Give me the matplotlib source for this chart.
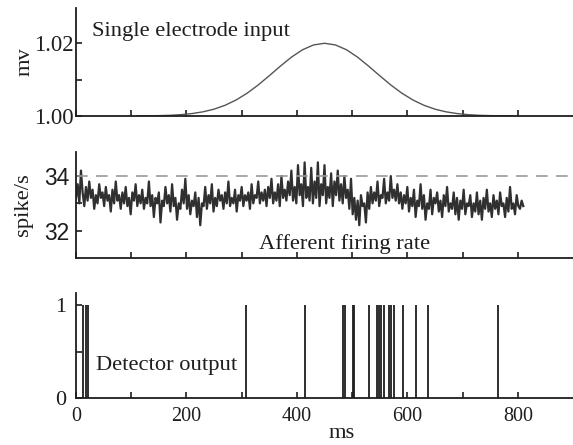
import matplotlib
matplotlib.use("Agg")
import matplotlib.pyplot as plt

# ---------------- data ----------------
input_t = [110, 130, 150, 170, 190, 210, 230, 250, 270, 290, 310, 330, 350, 370, 390,
           410, 430, 450, 470, 490, 510, 530, 550, 570, 590, 610, 630, 650, 670, 690,
           710, 730, 750, 770, 790]
input_mv = [1.00002, 1.00005, 1.00010, 1.00019, 1.00037, 1.00067, 1.00115, 1.00188,
            1.00295, 1.00441, 1.00628, 1.00854, 1.01108, 1.01370, 1.01617, 1.01820,
            1.01953, 1.02000, 1.01953, 1.01820, 1.01617, 1.01370, 1.01108, 1.00854,
            1.00628, 1.00441, 1.00295, 1.00188, 1.00115, 1.00067, 1.00037, 1.00019,
            1.00010, 1.00005, 1.00002]

rate_step_ms = 3
rate_values = [
    33.2, 33.7, 33.0, 34.2, 33.4, 32.9, 33.6, 33.1, 33.8, 33.2,
    33.5, 32.8, 33.3, 33.0, 33.7, 33.2, 33.4, 32.9, 33.6, 33.1,
    33.3, 32.7, 33.5, 33.0, 33.8, 33.1, 33.3, 32.8, 33.4, 33.0,
    33.6, 32.9, 33.2, 32.6, 33.4, 33.1, 33.7, 32.9, 33.3, 33.0,
    33.5, 32.8, 33.2, 33.0, 33.8, 32.9, 33.3, 32.5, 33.2, 33.0,
    33.4, 32.3, 33.1, 32.9, 33.6, 33.0, 33.3, 32.7, 33.7, 32.9,
    33.2, 32.4, 33.0, 32.8, 33.5, 33.0, 33.9, 32.8, 33.3, 32.6,
    33.1, 32.9, 33.4, 32.5, 33.2, 32.2, 33.0, 32.9, 33.6, 32.8,
    33.3, 33.0, 33.7, 32.7, 33.2, 32.9, 33.5, 33.1, 33.3, 32.8,
    33.4, 33.0, 33.8, 32.9, 33.2, 33.0, 33.5, 32.7, 33.3, 33.1,
    33.6, 32.9, 33.3, 33.1, 33.4, 32.8, 33.7, 33.0, 33.3, 33.2,
    33.8, 33.0, 33.4, 33.1, 33.5, 32.9, 33.6, 33.2, 33.9, 33.0,
    33.4, 33.1, 33.7, 32.9, 34.0, 33.2, 33.5, 33.1, 33.8, 33.3,
    34.2, 33.1, 33.6, 33.0, 34.4, 33.3, 33.7, 32.9, 34.5, 33.2,
    33.6, 33.1, 34.3, 33.0, 33.8, 33.2, 34.5, 32.9, 33.7, 33.3,
    34.4, 33.0, 33.6, 33.2, 34.1, 32.9, 33.8, 33.3, 34.2, 33.1,
    33.7, 33.0, 34.0, 33.2, 33.5, 32.8, 33.9, 32.6, 33.2, 32.4,
    33.1, 32.2, 33.3, 32.9, 33.0, 32.3, 33.4, 32.8, 33.6, 33.0,
    33.4, 33.1, 33.8, 32.9, 33.3, 33.2, 33.9, 33.0, 33.4, 33.1,
    34.0, 33.2, 33.5, 33.1, 33.7, 33.0, 33.4, 32.8, 33.3, 33.0,
    33.6, 32.7, 33.2, 32.9, 33.5, 32.5, 33.1, 32.9, 33.7, 32.8,
    33.3, 32.4, 33.0, 32.8, 33.5, 32.6, 33.2, 33.0, 33.4, 32.7,
    33.1, 32.5, 33.3, 32.9, 33.6, 32.7, 33.0, 32.8, 33.4, 32.6,
    33.2, 32.4, 33.1, 32.8, 33.5, 32.6, 33.0, 32.9, 33.3, 32.5,
    33.0, 32.7, 33.4, 32.6, 33.1, 32.4, 33.2, 32.8, 33.5, 32.7,
    33.0, 32.5, 33.3, 32.8, 33.1, 32.6, 33.4, 32.9, 33.0, 32.5,
    33.2, 32.7, 33.6, 32.8, 33.0, 32.6, 33.3, 32.9, 32.8, 33.1,
    32.9,
]
threshold = 34.0

spike_times = [13, 18, 21, 307, 415, 484, 487, 502, 504, 531, 545, 549, 553,
               558, 567, 571, 575, 592, 616, 637, 765]

x_major = [0, 200, 400, 600, 800]
x_minor = [100, 300, 500, 700]

# ---------------- figure ----------------
W, H = 573, 445
fig = plt.figure(figsize=(W / 100, H / 100), dpi=100)
serif = "Liberation Serif"
sans = "Liberation Sans"
plt.rcParams["font.family"] = serif
INK = "#1e1e1e"
TXT = 16.2


def px_axes(left, top, right, bottom):
    return fig.add_axes([left / W, 1 - bottom / H, (right - left) / W, (bottom - top) / H])


ax1 = px_axes(76, 8, 573, 116)
ax2 = px_axes(76, 152, 573, 258)
ax3 = px_axes(76, 293, 573, 398)

for ax in (ax1, ax2, ax3):
    ax.set_xlim(0, 900)
    for s in ("top", "right"):
        ax.spines[s].set_visible(False)
    for s in ("left", "bottom"):
        ax.spines[s].set_linewidth(1.3)
        ax.spines[s].set_color(INK)
    ax.set_xticks(x_major)
    ax.set_xticks(x_minor, minor=True)
    ax.tick_params(axis="both", which="both", direction="in", length=4, width=1.2,
                   color=INK, labelsize=14.5, labelcolor=INK, pad=2)
    ax.patch.set_visible(False)

# panel 1
ax1.plot(input_t, input_mv, color="#555555", lw=1.0)
ax1.set_ylim(1.0, 1.0297)
ax1.set_yticks([1.00, 1.02])
ax1.set_yticklabels(["1.00", "1.02"], fontsize=16.3)
ax1.set_yticks([1.01], minor=True)
ax1.tick_params(axis="y", pad=1.5)
ax1.set_xticklabels([])
ax1.set_ylabel("mv", fontsize=TXT, color=INK)
ax1.yaxis.set_label_coords((35 - 76) / 497, 0.5)
ax1.text(29, 1.0232, "Single electrode input", fontsize=TXT, color=INK, va="center")

# panel 2
rate_t = [i * rate_step_ms for i in range(len(rate_values))]
ax2.plot(rate_t, rate_values, color="#303030", lw=1.6)
ax2.axhline(threshold, color="#999999", lw=1.2, dashes=(7, 5))
ax2.set_ylim(31, 34.88)
ax2.set_yticks([32, 34])
ax2.set_yticks([33], minor=True)
ax2.set_yticklabels(["32", "34"], family=sans, fontsize=16.4)
ax2.tick_params(axis="y", pad=5)
ax2.set_xticklabels([])
ax2.set_ylabel("spike/s", fontsize=TXT, color=INK)
ax2.yaxis.set_label_coords((33 - 76) / 497, 0.5)
ax2.text(331, 31.52, "Afferent firing rate", fontsize=TXT, color=INK, va="center")

# panel 3
ax3.vlines(spike_times, 0, 1, color=INK, lw=1.3)
ax3.set_ylim(0, 1.13)
ax3.set_yticks([0, 1])
ax3.set_yticks([0.5], minor=True)
ax3.set_yticklabels(["0", "1"], fontsize=16)
ax3.tick_params(axis="y", pad=7)
ax3.tick_params(axis="x", pad=6.5)
ax3.set_xticklabels([str(v) for v in x_major])
ax3.text(36, 0.355, "Detector output", fontsize=TXT, color=INK, va="center")
ax3.set_xlabel("ms", fontsize=TXT, color=INK)
ax3.xaxis.set_label_coords((341.7 - 76) / 497, -0.25)

fig.savefig("out.png", dpi=100)
